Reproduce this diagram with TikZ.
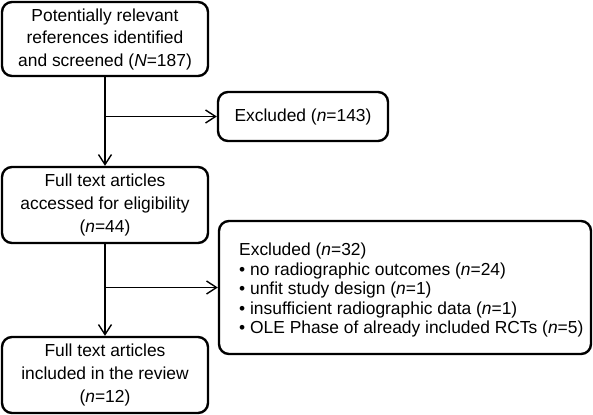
\documentclass[tikz,border=0pt]{standalone}
\usepackage{fontspec}
\setmainfont{Liberation Sans}
\usetikzlibrary{arrows.meta}
\begin{document}
\begin{tikzpicture}[x=1bp,y=-1bp,
  box/.style={draw, line width=2.4bp, rounded corners=10bp, inner sep=0pt, align=center,
    font=\fontsize{17.4bp}{23bp}\selectfont},
  conn/.style={line width=1.4bp},
  arr/.style={conn,-{Straight Barb[length=10bp,width=13bp]}}]
\useasboundingbox (0,0) rectangle (593,414);
\node[box, minimum width=206bp, minimum height=74bp, font=\fontsize{17.4bp}{22.5bp}\selectfont] (s) at (105,39)
  {Potentially relevant\\references identified\\and screened (\textit{N}=187)};
\node[box, minimum width=170bp, minimum height=49bp] (e1) at (303,116.5)
  {Excluded (\textit{n}=143)};
\node[box, minimum width=206bp, minimum height=76bp] (f) at (105,205)
  {Full text articles\\accessed for eligibility\\(\textit{n}=44)};
\node[box, minimum width=372bp, minimum height=133bp] (e2) at (405,287.5) {};
\node[anchor=west, inner sep=0pt, align=left, font=\fontsize{17.4bp}{19.5bp}\selectfont] (e2t) at (239,290)
  {Excluded (\textit{n}=32)\\
   • no radiographic outcomes (\textit{n}=24)\\
   • unfit study design (\textit{n}=1)\\
   • insufficient radiographic data (\textit{n}=1)\\
   • OLE Phase of already included RCTs (\textit{n}=5)};
\node[box, minimum width=206bp, minimum height=76bp] (i) at (105,375)
  {Full text articles\\included in the review\\(\textit{n}=12)};
\draw[arr] (s) -- (f);
\draw[arr] (s.south |- e1.west) -- (e1.west);
\draw[arr] (f) -- (i);
\draw[arr] (f.south |- e2.west) -- (e2.west);
\end{tikzpicture}
\end{document}
